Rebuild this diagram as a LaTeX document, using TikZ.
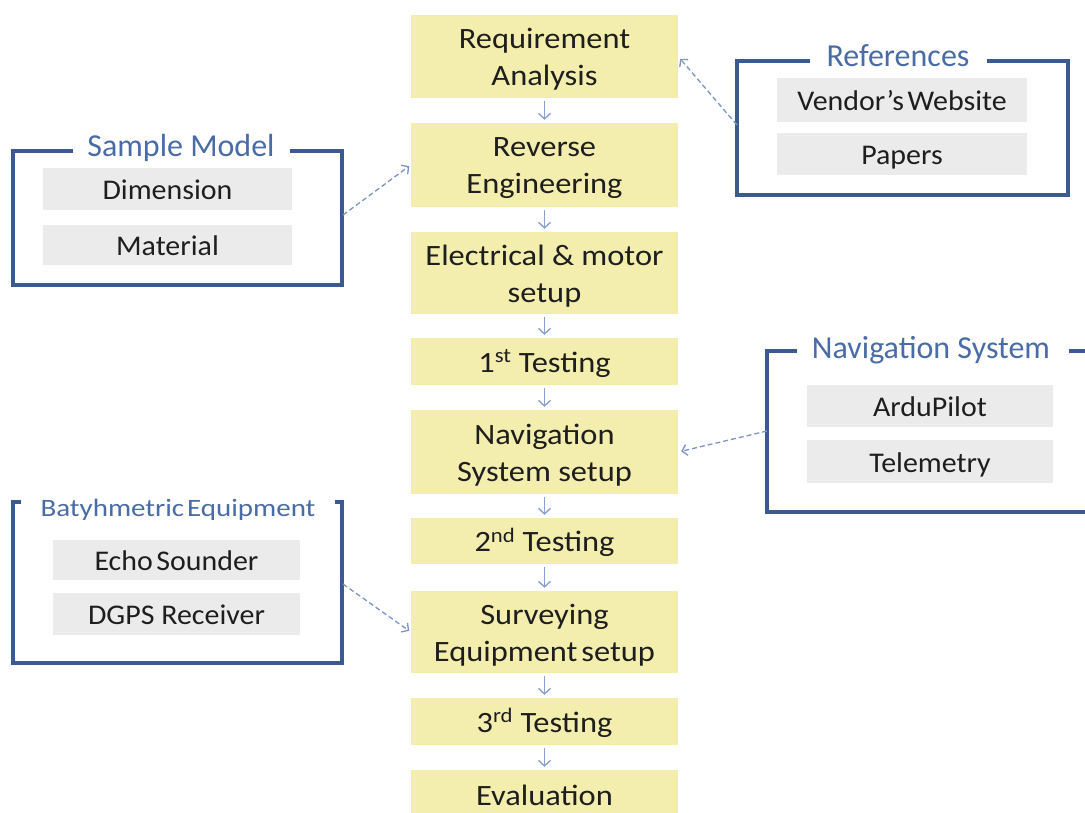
\documentclass[tikz,border=0pt]{standalone}
\usepackage{fontspec}
\setmainfont{Carlito}
\usepackage{graphicx}
\usetikzlibrary{arrows.meta}
\definecolor{boxyellow}{HTML}{F3EEAE}
\definecolor{itemgray}{HTML}{EBEBEB}
\definecolor{framblue}{HTML}{3B5B8E}
\definecolor{titleblue}{HTML}{4A6CA6}
\definecolor{arrowblue}{HTML}{8A9FD2}
\definecolor{dashblue}{HTML}{7C93C8}
\definecolor{txt}{HTML}{1E1E1E}
\newcommand\ms[1]{\rule[-6pt]{0pt}{33pt}\scalebox{1.1}[1]{#1}}
\newcommand\is[1]{\rule[-6pt]{0pt}{33pt}\scalebox{1.05}[1]{#1}}
\begin{document}
\begin{tikzpicture}[x=1pt,y=-1pt,
  mainbox/.style={fill=boxyellow, draw=none, minimum width=267pt, inner sep=0pt, align=center, text=txt, font=\fontsize{29.5}{37}\selectfont},
  itembox/.style={fill=itemgray, draw=none, inner sep=0pt, text=txt, font=\fontsize{28.5}{32}\selectfont},
  frameline/.style={draw=framblue, line width=3.5pt},
  grouptitle/.style={text=titleblue, font=\fontsize{32}{36}\selectfont, anchor=base, inner sep=0pt},
  flow/.style={draw=arrowblue, line width=1.4pt, -{Straight Barb[length=5.5pt,width=12pt]}, shorten <=3pt, shorten >=3pt},
  link/.style={draw=dashblue, line width=1.3pt, dash pattern=on 5pt off 3pt, -{Straight Barb[length=5pt,width=11pt]}}]
\fill[white] (0,0) rectangle (1085,813);
\useasboundingbox (0,0) rectangle (1085,813);

% main flow
\node[mainbox, minimum height=83pt] (b1) at (544.5,56.5) {\ms{Requirement}\\\ms{Analysis}};
\node[mainbox, minimum height=84pt] (b2) at (544.5,165) {\ms{Reverse}\\\ms{Engineering}};
\node[mainbox, minimum height=82pt] (b3) at (544.5,273) {\ms{Electrical \& motor}\\\ms{setup}};
\node[mainbox, minimum height=47pt] (b4) at (544.5,361.5) {\ms{1\textsuperscript{st} Testing}};
\node[mainbox, minimum height=84pt] (b5) at (544.5,452) {\ms{Navigation}\\\ms{System setup}};
\node[mainbox, minimum height=46pt] (b6) at (544.5,541) {\ms{2\textsuperscript{nd} Testing}};
\node[mainbox, minimum height=82pt] (b7) at (544.5,632) {\ms{Surveying}\\\ms{Equipment\hspace{0.12em}setup}};
\node[mainbox, minimum height=47pt] (b8) at (544.5,721.5) {\ms{3\textsuperscript{rd} Testing}};
\node[mainbox, minimum height=50pt] (b9) at (544.5,795) {\ms{Evaluation}};

\draw[flow] (b1) -- (b2);
\draw[flow] (b2) -- (b3);
\draw[flow] (b3) -- (b4);
\draw[flow] (b4) -- (b5);
\draw[flow] (b5) -- (b6);
\draw[flow] (b6) -- (b7);
\draw[flow] (b7) -- (b8);
\draw[flow] (b8) -- (b9);

% Sample Model group
\draw[frameline] (73,151) -- (13,151) -- (13,285) -- (342,285) -- (342,151) -- (290,151);
\node[grouptitle] (tsm) at (181,157) {Sample Model};
\node[itembox, minimum width=249pt, minimum height=42pt] (dim) at (167.5,189) {\is{Dimension}};
\node[itembox, minimum width=249pt, minimum height=40pt] (mat) at (167.5,245) {\is{Material}};
\coordinate (smR) at (343,215);

% References group
\draw[frameline] (810,61) -- (737,61) -- (737,195) -- (1068,195) -- (1068,61) -- (987,61);
\node[grouptitle] (tref) at (898,67) {References};
\node[itembox, minimum width=250pt, minimum height=44pt] (vend) at (902,100) {\is{Vendor’s\hspace{0.12em}Website}};
\node[itembox, minimum width=250pt, minimum height=42pt] (pap) at (902,154) {\is{Papers}};
\coordinate (refL) at (737,125);

% Navigation System group
\draw[frameline] (797,351) -- (767,351) -- (767,512) -- (1100,512);
\draw[frameline] (1069,351) -- (1100,351);
\node[grouptitle] (tnav) at (931,358) {Navigation System};
\node[itembox, minimum width=246pt, minimum height=42pt] (ardu) at (930,406) {\is{ArduPilot}};
\node[itembox, minimum width=246pt, minimum height=43pt] (tele) at (930,461.5) {\is{Telemetry}};
\coordinate (navL) at (767,431);

% Batyhmetric Equipment group
\draw[frameline] (21,502) -- (13,502) -- (13,663) -- (342,663) -- (342,502) -- (335,502);
\node[grouptitle, font=\fontsize{25}{28}\selectfont] (tbat) at (178,516) {\scalebox{1.16}[1]{Batyhmetric\hspace{0.1em}Equipment}};
\node[itembox, minimum width=247pt, minimum height=40pt] (echo) at (176.5,560) {\is{Echo\hspace{0.12em}Sounder}};
\node[itembox, minimum width=247pt, minimum height=42pt] (dgps) at (176.5,614) {\is{DGPS Receiver}};
\coordinate (batR) at (343,584);

% dashed links
\draw[link, shorten >=3pt] (refL) -- (b1.east);
\draw[link, shorten >=2pt] (smR) -- (b2.west);
\draw[link, shorten >=3pt] (navL) -- (b5.east);
\draw[link, shorten >=2pt] (batR) -- (b7.west);
\end{tikzpicture}
\end{document}
